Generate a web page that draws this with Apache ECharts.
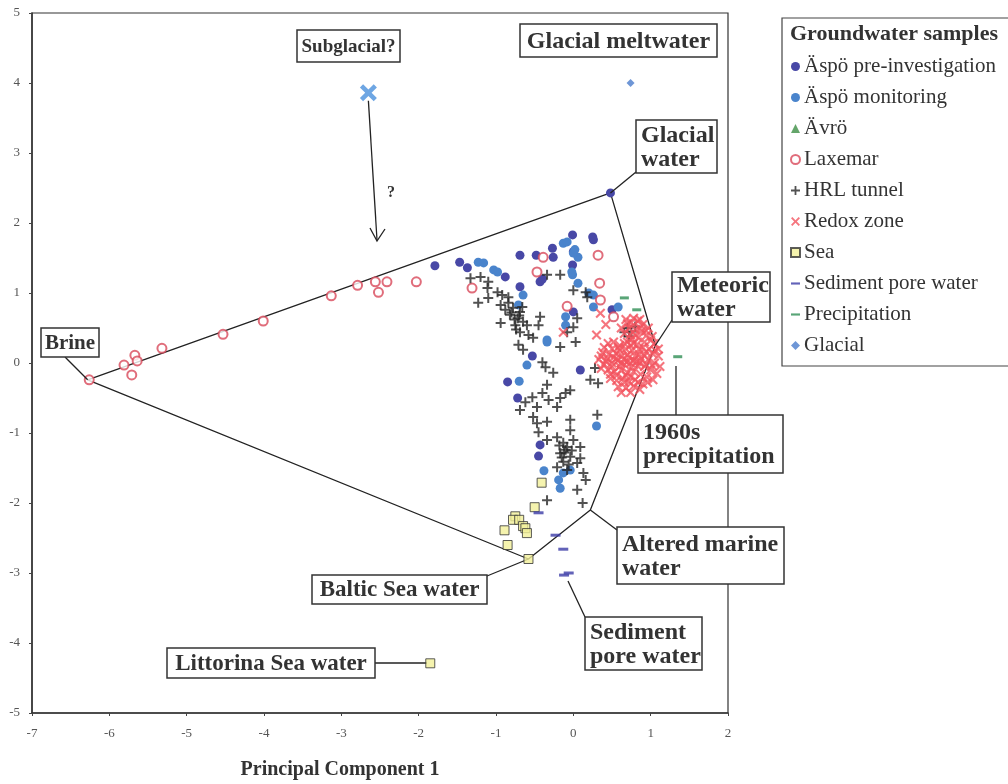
<!DOCTYPE html>
<html><head><meta charset="utf-8">
<script src="https://cdn.jsdelivr.net/npm/echarts@6/dist/echarts.min.js"></script>
<style>html,body{margin:0;padding:0;background:#fff}#c{width:1008px;height:784px}</style>
</head><body><div id="c"></div>
<script>
// ---------- DATA (PC1 vs PC2) ----------
const xTicks = [-7,-6,-5,-4,-3,-2,-1,0,1,2];
const yTicks = [-5,-4,-3,-2,-1,0,1,2,3,4,5];

const aspoPre = [[-1.79,1.39],[-1.47,1.44],[-1.37,1.36],[-0.69,1.54],[-0.48,1.54],[-0.27,1.64],[-0.01,1.83],[0.25,1.8],
 [0.0,1.59],[-0.26,1.51],[-0.88,1.23],[-0.43,1.16],[-0.01,1.4],[-0.69,1.09],[0.0,0.73],[-0.53,0.1],[-0.85,-0.27],
 [0.09,-0.1],[-0.72,-0.5],[-0.43,-1.17],[-0.45,-1.33],[0.48,2.43],[0.5,0.76],[-0.4,1.2],[0.26,1.76]];
const aspoMon = [[-1.23,1.44],[-1.16,1.43],[-1.03,1.33],[-0.98,1.3],[-0.13,1.71],[-0.08,1.73],[0.06,1.51],[0.0,1.57],
 [-0.01,1.26],[0.06,1.14],[0.26,0.97],[0.26,0.8],[-0.65,0.97],[-0.71,0.83],[-0.1,0.66],[-0.1,0.54],[-0.34,0.33],
 [0.58,0.8],[-0.34,0.3],[-0.6,-0.03],[-0.7,-0.26],[0.3,-0.9],[-0.38,-1.54],[-0.19,-1.67],[-0.17,-1.79],[-0.13,-1.57],
 [-0.04,-1.53],[0.02,1.62],[-0.02,1.3],[0.2,1.0]];
const avro = [];
const laxemar = [[-6.26,-0.24],[-5.81,-0.03],[-5.67,0.11],[-5.64,0.03],[-5.71,-0.17],[-5.32,0.21],[-4.53,0.41],
 [-4.01,0.6],[-3.13,0.96],[-2.79,1.11],[-2.56,1.16],[-2.52,1.01],[-2.41,1.16],[-2.03,1.16],[-1.31,1.07],[-0.47,1.3],
 [-0.39,1.51],[0.34,1.14],[-0.08,0.81],[0.35,0.9],[0.32,1.54],[0.52,0.66]];
const hrl = [[-1.33,1.21],[-1.2,1.23],[-1.1,1.16],[-1.11,1.07],[-0.98,1.01],[-0.92,0.97],[-0.84,0.94],[-1.23,0.86],
 [-1.1,0.93],[-0.94,0.83],[-0.84,0.86],[-0.78,0.79],[-0.82,0.69],[-0.72,0.64],[-0.69,0.73],[-0.65,0.59],[-0.75,0.54],
 [-0.6,0.54],[-0.94,0.57],[-0.69,0.44],[-0.43,0.66],[-0.45,0.54],[-0.34,1.26],[-0.17,1.26],[0.0,1.04],[0.16,1.01],
 [0.18,0.94],[0.05,0.64],[0.0,0.51],[-0.08,0.44],[-0.71,0.26],[-0.65,0.19],[-0.52,0.36],[-0.17,0.23],[0.03,0.3],
 [-0.4,0.01],[-0.36,-0.06],[-0.26,-0.14],[0.28,-0.07],[0.22,-0.24],[0.32,-0.29],[-0.04,-0.39],[-0.1,-0.43],
 [-0.34,-0.31],[-0.4,-0.43],[-0.53,-0.49],[-0.62,-0.56],[-0.69,-0.67],[-0.32,-0.53],[-0.21,-0.63],[-0.17,-0.5],
 [-0.47,-0.63],[-0.52,-0.77],[-0.47,-0.86],[-0.34,-0.84],[-0.04,-0.81],[0.31,-0.74],[-0.45,-0.99],[-0.34,-1.1],
 [-0.21,-1.06],[-0.13,-1.14],[-0.04,-0.96],[0.0,-1.1],[0.09,-1.2],[-0.17,-1.29],[-0.1,-1.24],[-0.04,-1.34],
 [-0.13,-1.41],[-0.21,-1.49],[0.05,-1.43],[0.13,-1.57],[-0.08,-1.53],[0.16,-1.67],[0.05,-1.81],[-0.34,-1.96],
 [0.12,-2.0],[0.09,-1.36],[-0.08,-1.2],[-0.15,-1.35],[-0.06,-1.45],[-0.12,-1.28],[-0.02,-1.25],[-0.18,-1.18],
 [-0.76,0.62],[-0.8,0.72],[-0.7,0.68],[-0.74,0.48],[-0.66,0.8],[-0.88,0.76],[-0.58,0.4],
 [0.7,0.5],[0.75,0.45],[0.8,0.52],[0.72,0.38],[0.66,0.44]];
const redox = [[0.68,0.62],[0.75,0.58],[0.83,0.6],[0.9,0.55],[0.97,0.5],[0.72,0.5],[0.8,0.48],[0.88,0.45],[0.95,0.4],
 [1.02,0.38],[0.66,0.42],[0.74,0.4],[0.84,0.36],[0.92,0.3],[1.05,0.28],[0.7,0.3],[0.78,0.28],[0.62,0.5],
 [0.45,0.28],[0.52,0.3],[0.6,0.25],[0.68,0.2],[0.76,0.18],[0.85,0.2],[0.94,0.16],[1.02,0.14],[1.1,0.1],
 [0.38,0.15],[0.46,0.12],[0.55,0.14],[0.63,0.1],[0.72,0.08],[0.8,0.1],[0.88,0.06],[0.97,0.05],[1.05,0.0],
 [0.33,0.05],[0.42,0.02],[0.5,0.0],[0.58,0.04],[0.66,-0.02],[0.74,0.0],[0.83,-0.04],[0.92,-0.05],[1.0,-0.1],[1.08,-0.15],
 [0.36,-0.08],[0.45,-0.1],[0.53,-0.12],[0.62,-0.1],[0.7,-0.14],[0.78,-0.12],[0.87,-0.16],[0.95,-0.2],[1.03,-0.24],
 [0.48,-0.22],[0.56,-0.25],[0.64,-0.22],[0.72,-0.27],[0.8,-0.24],[0.9,-0.3],
 [0.58,-0.34],[0.68,-0.36],[0.78,-0.33],[0.86,-0.38],
 [0.6,0.18],[0.7,0.12],[0.55,0.06],[0.65,0.05],[0.75,-0.06],[0.85,0.12],[0.5,-0.05],[0.6,-0.05],[0.68,-0.18],
 [0.82,0.02],[0.92,0.1],[-0.13,0.44],[0.35,0.71],[0.42,0.55],[0.3,0.4],
 [0.4,0.22],[0.5,0.2],[0.58,0.22],[0.66,0.28],[0.74,0.25],[0.82,0.26],[0.9,0.22],[0.98,0.2],[1.06,0.18],
 [0.36,0.1],[0.44,0.06],[0.52,0.08],[0.62,0.0],[0.7,0.02],[0.78,0.04],[0.86,0.0],[0.94,-0.02],[1.02,-0.04],
 [0.4,-0.02],[0.48,-0.16],[0.56,-0.18],[0.66,-0.28],[0.74,-0.2],[0.84,-0.28],[0.96,-0.28],[0.62,-0.42],[0.74,-0.42],
 [0.8,0.4],[0.86,0.5],[0.94,0.46],[1.0,0.32],[0.76,0.34],[0.7,0.56],[0.78,0.64],[0.86,0.62],[1.12,-0.05],[1.1,0.2]];
const sea = [[-0.41,-1.71],[-0.5,-2.06],[-0.75,-2.19],[-0.78,-2.24],[-0.7,-2.24],[-0.65,-2.33],[-0.62,-2.36],
 [-0.6,-2.43],[-0.89,-2.39],[-0.85,-2.6],[-0.58,-2.8],[-1.85,-4.29]];
const sediment = [[-0.45,-2.14],[-0.23,-2.46],[-0.13,-2.66],[-0.12,-3.03],[-0.06,-3.0]];
const precipitation = [[0.66,0.93],[0.82,0.76],[1.35,0.09]];
const glacial = [[0.74,4.0]];
const subglacial = [[-2.65,3.86]];

// end-member mixing polygon vertices
const endMemberNames = ['Brine','Glacial water','Meteoric water','Altered marine water','Baltic Sea water'];
const endMemberCoords = [[-6.28,-0.24],[0.48,2.43],[1.06,0.25],[0.22,-2.1],[-0.58,-2.8]];

// ---------- STYLE / LAYOUT ----------
const SERIF = '"Liberation Serif","DejaVu Serif",serif';
const plusPath = 'path://M4,0 L6,0 L6,4 L10,4 L10,6 L6,6 L6,10 L4,10 L4,6 L0,6 L0,4 L4,4 Z';
const xPath = 'path://M0,1.5 L1.5,0 L5,3.5 L8.5,0 L10,1.5 L6.5,5 L10,8.5 L8.5,10 L5,6.5 L1.5,10 L0,8.5 L3.5,5 Z';
const dashPath = 'path://M0,0 L10,0 L10,2.4 L0,2.4 Z';
const bigX = 'path://M3,0 L8,5 L13,0 L16,3 L11,8 L16,13 L13,16 L8,11 L3,16 L0,13 L5,8 L0,3 Z';

const polygon = endMemberCoords.concat([endMemberCoords[0]]);

const option = {
  animation:false,
  backgroundColor:'#fff',
  grid:{left:32,right:280,top:13,bottom:71,show:true,borderColor:'#333',borderWidth:1.2,backgroundColor:'transparent'},
  xAxis:{type:'value',min:xTicks[0],max:xTicks[xTicks.length-1],interval:1,
    axisLine:{onZero:false,lineStyle:{color:'#333',width:1.5}},
    axisTick:{show:true,length:3,lineStyle:{color:'#444'}},
    splitLine:{show:false},
    axisLabel:{margin:14,color:'#555',fontFamily:SERIF,fontSize:13}},
  yAxis:{type:'value',min:yTicks[0],max:yTicks[yTicks.length-1],interval:1,
    axisLine:{onZero:false,lineStyle:{color:'#333',width:1.5}},
    axisTick:{show:true,length:3,lineStyle:{color:'#444'}},
    splitLine:{show:false},
    axisLabel:{margin:12,color:'#555',fontFamily:SERIF,fontSize:13}},
  legend:{orient:'vertical',left:785,top:51,itemWidth:9,itemHeight:9,itemGap:10,
    textStyle:{fontFamily:SERIF,fontSize:21,color:'#333',lineHeight:18,padding:[0,0,0,-1]},
    data:[
      {name:'Äspö pre-investigation'},{name:'Äspö monitoring'},{name:'Ävrö'},{name:'Laxemar'},
      {name:'HRL tunnel'},{name:'Redox zone'},{name:'Sea'},{name:'Sediment pore water',icon:dashPath},
      {name:'Precipitation',icon:dashPath},{name:'Glacial'}]},
  series:[
    {type:'line',name:'polygon',data:polygon,showSymbol:false,silent:true,z:1,
     lineStyle:{color:'#222',width:1.3}},
    {type:'scatter',name:'Äspö pre-investigation',data:aspoPre,symbol:'circle',symbolSize:9,
     itemStyle:{color:'#4848a6',opacity:1},z:3},
    {type:'scatter',name:'Äspö monitoring',data:aspoMon,symbol:'circle',symbolSize:9,
     itemStyle:{color:'#4a84cc',opacity:1},z:3},
    {type:'scatter',name:'Ävrö',data:avro,symbol:'triangle',symbolSize:9,itemStyle:{color:'#3d8f45'},z:3},
    {type:'scatter',name:'Laxemar',data:laxemar,symbol:'emptyCircle',symbolSize:9,
     itemStyle:{color:'#d8485a',borderWidth:1.2},z:3},
    {type:'scatter',name:'HRL tunnel',data:hrl,symbol:plusPath,symbolSize:10,itemStyle:{color:'#262626'},z:4},
    {type:'scatter',name:'Redox zone',data:redox,symbol:xPath,symbolSize:10,itemStyle:{color:'#f2525e'},z:4},
    {type:'scatter',name:'Sea',data:sea,symbol:'rect',symbolSize:9,
     itemStyle:{color:'#f2f09a',borderColor:'#333',borderWidth:1},z:5},
    {type:'scatter',name:'Sediment pore water',data:sediment,symbol:dashPath,symbolSize:[10,3],
     itemStyle:{color:'#3b3ba6'},z:5},
    {type:'scatter',name:'Precipitation',data:precipitation,symbol:dashPath,symbolSize:[9,3],
     itemStyle:{color:'#2f8f55'},z:5},
    {type:'scatter',name:'Glacial',data:glacial,symbol:'diamond',symbolSize:8,itemStyle:{color:'#4a7ccc'},z:5},
    {type:'scatter',name:'Subglacial',data:subglacial,symbol:bigX,symbolSize:17,itemStyle:{color:'#4a90dc'},z:5}
  ]
};

const chart = echarts.init(document.getElementById('c'));
chart.setOption(option);
const toPx = p => chart.convertToPixel({gridIndex:0}, p);
const vertexPx = name => toPx(endMemberCoords[endMemberNames.indexOf(name)]);

// annotation boxes (layout in pixels)
const boxes = [
  {text:'Subglacial?', x:297, y:30, w:103, h:32, align:'center', fs:19},
  {text:'Glacial meltwater', x:520, y:24, w:197, h:33, align:'center', fs:24},
  {text:'Glacial\nwater', x:636, y:120, w:81, h:53, target:'Glacial water', from:[636,172], fs:24},
  {text:'Meteoric\nwater', x:672, y:272, w:98, h:50, target:'Meteoric water', from:[672,320], fs:24},
  {text:'Brine', x:41, y:328, w:58, h:29, align:'center', target:'Brine', from:[65,357], fs:21},
  {text:'1960s\nprecipitation', x:638, y:415, w:145, h:58, fs:24},
  {text:'Altered marine\nwater', x:617, y:527, w:167, h:57, target:'Altered marine water', from:[617,530], fs:24},
  {text:'Baltic Sea water', x:312, y:575, w:175, h:29, align:'center', target:'Baltic Sea water', from:[487,576], fs:23},
  {text:'Sediment\npore water', x:585, y:617, w:117, h:53, fs:24},
  {text:'Littorina Sea water', x:167, y:648, w:208, h:30, align:'center', fs:23}
];
const extraLines = [
  [[676,366],[676,415]],
  [[568,581],[585,617]],
  [[375,663],[427,663]]
];

const g = [];
// legend frame + title
g.push({type:'rect',shape:{x:782,y:18,width:240,height:348},style:{fill:'#fff',stroke:'#444',lineWidth:1.2},z:0});
g.push({type:'text',style:{text:'Groundwater samples',x:790,y:34,font:'bold 22px '+SERIF,fill:'#333',verticalAlign:'middle'},z:10});
boxes.forEach(b=>{
  if(b.target){
    const v = vertexPx(b.target);
    g.push({type:'line',shape:{x1:b.from[0],y1:b.from[1],x2:v[0],y2:v[1]},style:{stroke:'#222',lineWidth:1.3},z:5});
  }
  g.push({type:'rect',shape:{x:b.x,y:b.y,width:b.w,height:b.h},style:{fill:'#fff',stroke:'#333',lineWidth:1.5},z:20});
  const center = b.align==='center';
  g.push({type:'text',style:{text:b.text,x:center?b.x+b.w/2:b.x+5,y:b.y+b.h/2+1,
    font:'bold '+b.fs+'px '+SERIF,fill:'#333',align:center?'center':'left',verticalAlign:'middle',lineHeight:24},z:21});
});
extraLines.forEach(l=>{
  g.push({type:'line',shape:{x1:l[0][0],y1:l[0][1],x2:l[1][0],y2:l[1][1]},style:{stroke:'#222',lineWidth:1.3},z:5});
});
// subglacial arrow
const s = toPx(subglacial[0]);
g.push({type:'line',shape:{x1:s[0],y1:s[1]+8,x2:377,y2:240},style:{stroke:'#222',lineWidth:1.3},z:5});
g.push({type:'polyline',shape:{points:[[370,228],[377,241],[385,229]]},style:{stroke:'#222',lineWidth:1.3,fill:null},z:5});
g.push({type:'text',style:{text:'?',x:391,y:193,font:'bold 16px '+SERIF,fill:'#333',align:'center',verticalAlign:'middle'},z:5});
// x axis title
g.push({type:'text',style:{text:'Principal Component 1',x:340,y:770,font:'bold 20px '+SERIF,fill:'#333',align:'center',verticalAlign:'middle'},z:5});
chart.setOption({graphic:{elements:g}});
</script>
</body></html>
